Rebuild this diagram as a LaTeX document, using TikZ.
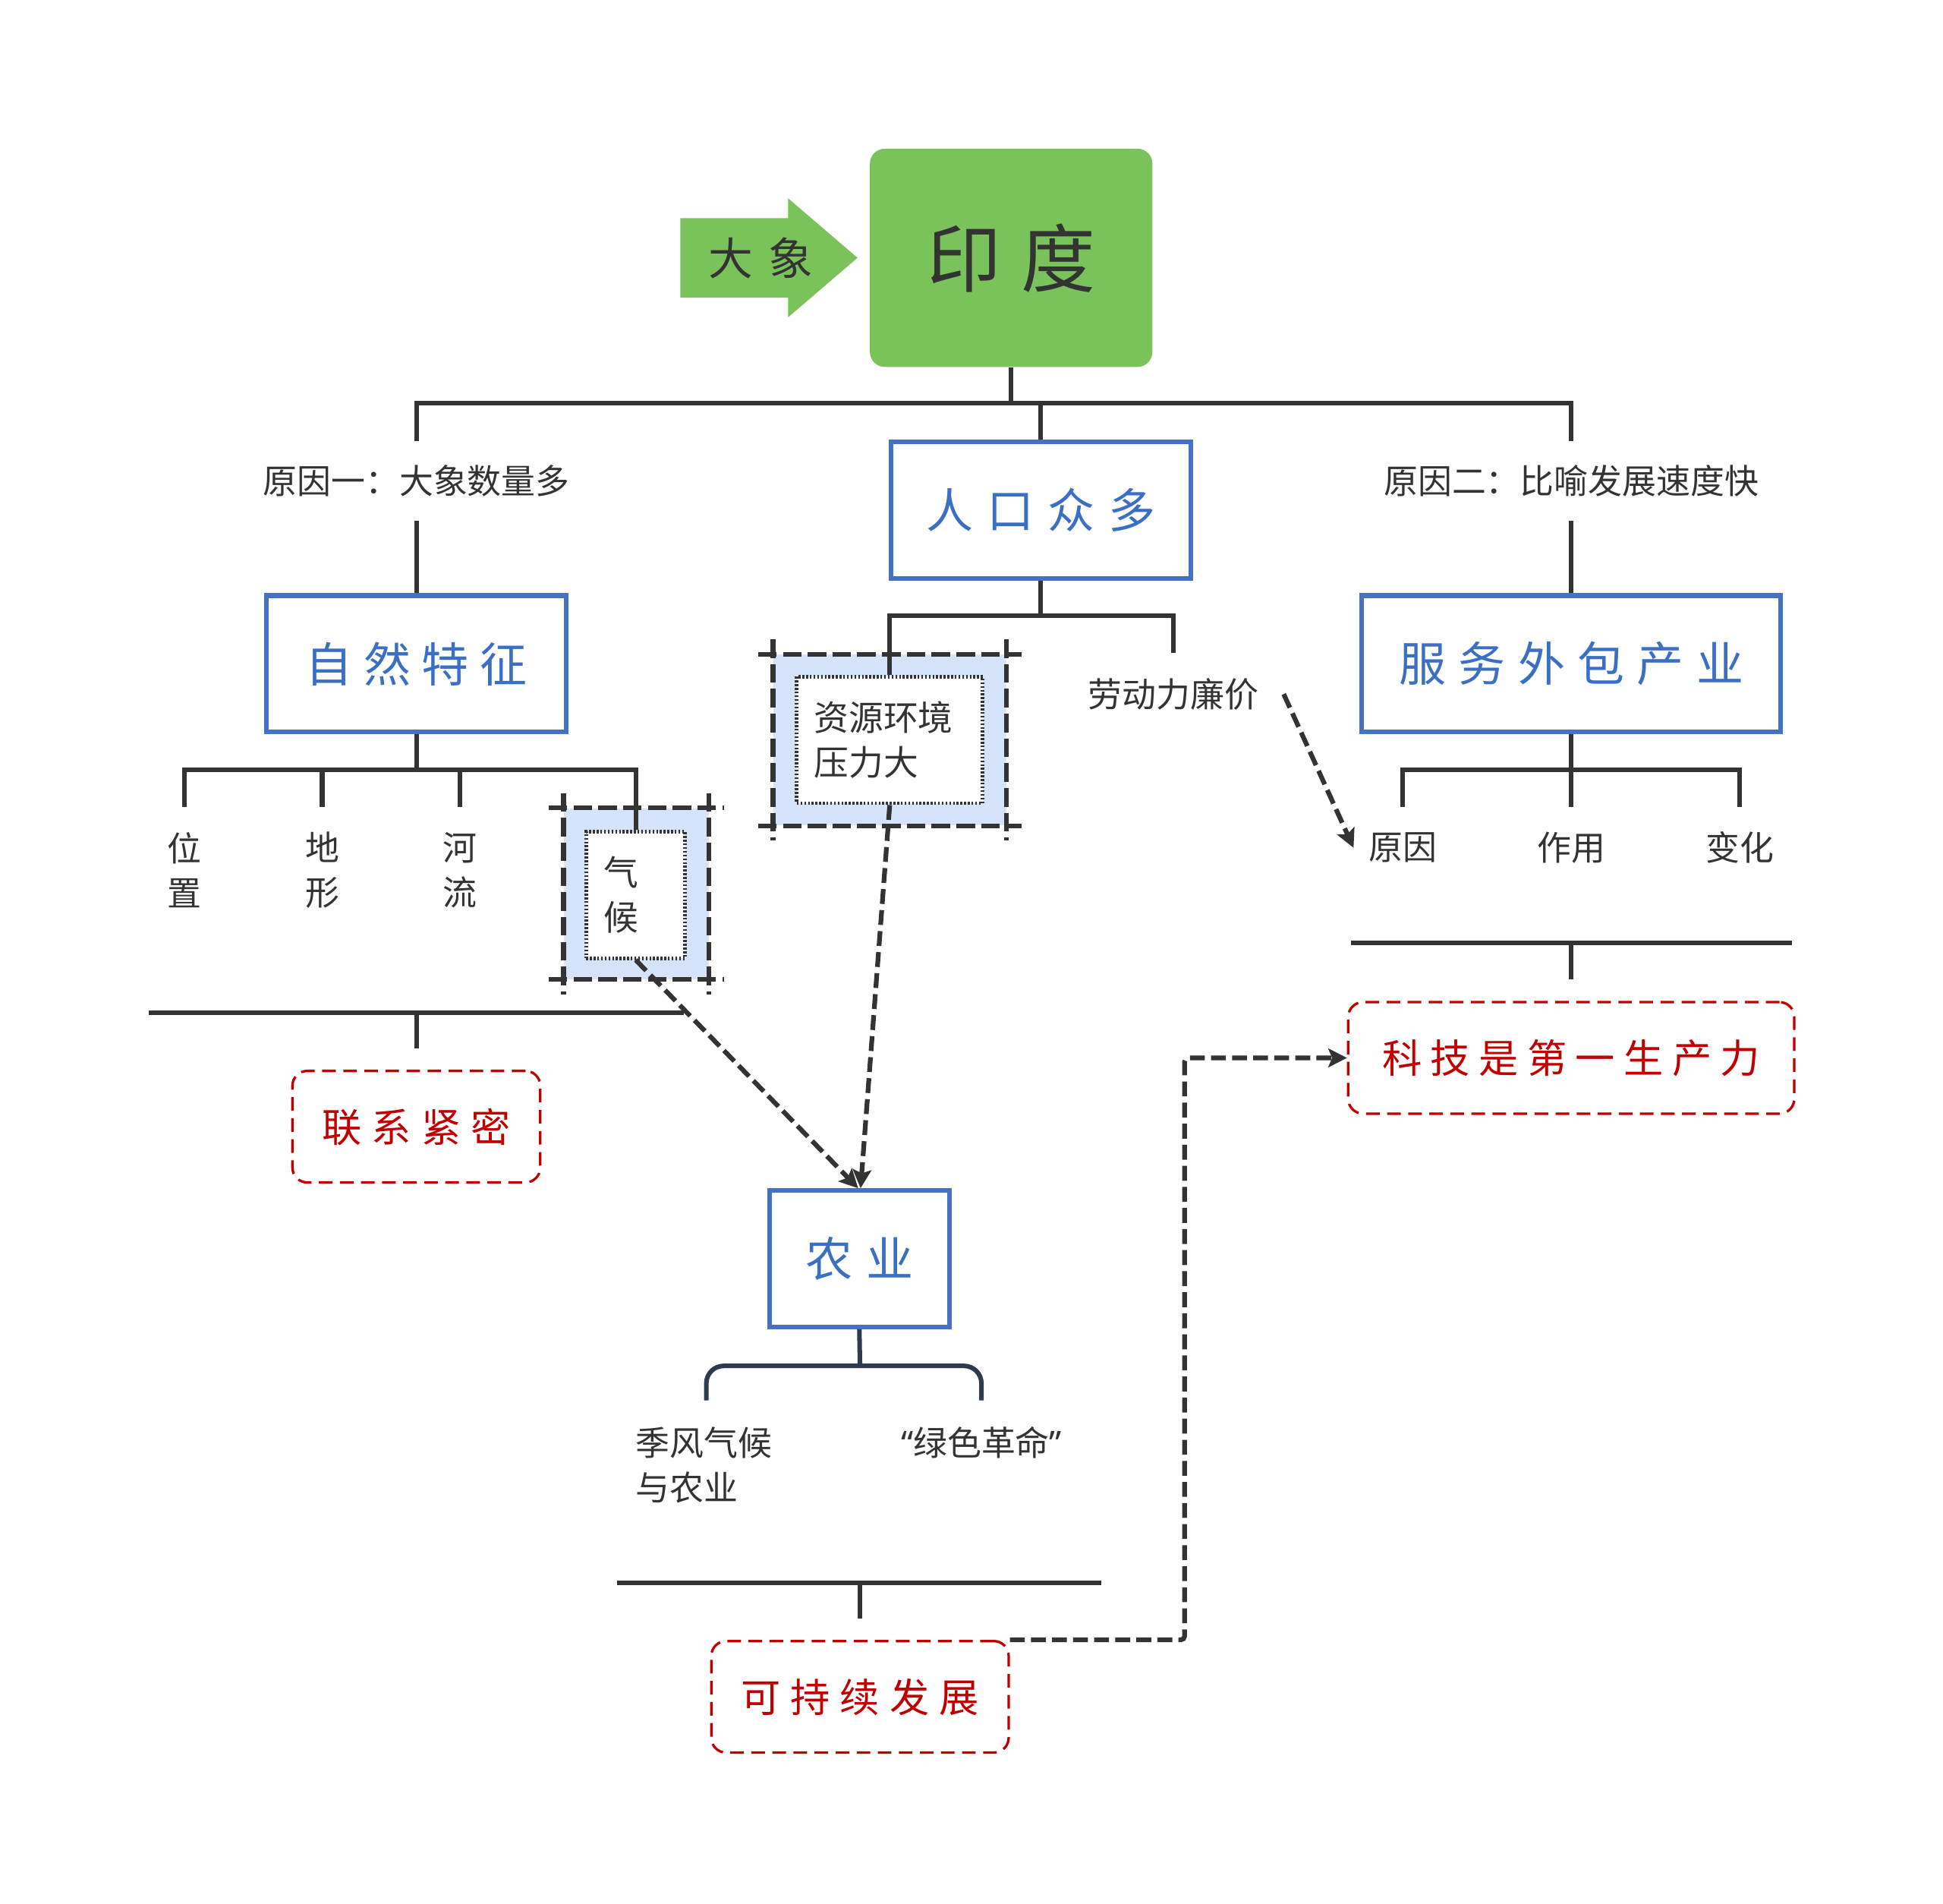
\documentclass[tikz,border=0pt]{standalone}
\usepackage{fontspec}
\setmainfont{Noto Sans CJK SC}
\newfontfamily\latinf{Noto Sans}
\usetikzlibrary{arrows.meta,calc}
\definecolor{lineC}{HTML}{333333}
\definecolor{boxblue}{HTML}{4472C4}
\definecolor{txtblue}{HTML}{3A6FC4}
\definecolor{rootgreen}{HTML}{7AC35A}
\definecolor{lightfill}{HTML}{D5E4FB}
\definecolor{redc}{HTML}{C00000}
\definecolor{navyC}{HTML}{2E3B4E}
\newcommand\fsz[2]{\fontsize{#1}{#2}\selectfont}
\newcommand\gp[1]{\hspace{#1pt}}
\begin{document}
\begin{tikzpicture}[x=1pt,y=-1pt,
  conn/.style={draw=lineC, line width=3.7pt},
  bluebox/.style={draw=boxblue, line width=3.7pt, fill=white, minimum width=#1, minimum height=110, text=txtblue, font=\fsz{38}{46}, inner sep=0},
  redbox/.style={draw=redc, line width=2pt, dash pattern=on 11pt off 6pt, rounded corners=12pt, minimum width=#1, minimum height=90, text=redc, font=\fsz{32}{40}, inner sep=0},
  lbl/.style={font=\fsz{27.5}{36}, text=lineC, inner sep=0, minimum height=#1},
  dasharrow/.style={draw=lineC, line width=3.8pt, dash pattern=on 12pt off 5pt, -{Stealth[length=15pt,width=15pt,inset=3pt]}},
  cropfill/.style={fill=lightfill, inner sep=0, minimum width=#1},
  cropline/.style={draw=lineC, line width=3.8pt, dash pattern=on 15pt off 5pt},
  dotbox/.style={draw=lineC, fill=white, line width=3pt, dash pattern=on 1.5pt off 1.5pt, inner sep=0, minimum width=#1, font=\fsz{28}{36}, text=lineC}
]
\useasboundingbox[fill=white] (0,0) rectangle (1568,1536);

% root
\node[fill=rootgreen, rounded corners=12pt, minimum width=228, minimum height=176, inner sep=0, text=lineC, font=\fsz{60}{66}] (root) at (816,208) {印\gp{16}度};
\fill[rootgreen] (549,176) -- (636,176) -- (636,160) -- (692,208) -- (636,256) -- (636,240) -- (549,240) -- cycle;
\node[text=lineC, font=\fsz{36}{40}, inner sep=0] (ele) at (614,208) {大\gp{12}象};

% level 1
\node[lbl=64] (r1) at (336,388) {原因一：大象数量多};
\node[lbl=64] (r2) at (1268,388) {原因二：比喻发展速度快};
\node[bluebox=242] (pop) at (840,411.5) {人\gp{11}口\gp{11}众\gp{11}多};
\coordinate (rootfork) at (816,325);
\draw[conn] (root.south) -- (rootfork);
\draw[conn] (r1.north) |- (rootfork) -| (r2.north);
\draw[conn] (pop.north) -- (pop.north |- rootfork);

% level 2
\node[bluebox=242] (nat) at (336,535.5) {自\gp{9}然\gp{9}特\gp{9}征};
\node[bluebox=338] (svc) at (1268,535.5) {服\gp{10}务\gp{10}外\gp{10}包\gp{10}产\gp{10}业};
\draw[conn] (r1.south) -- (nat.north);
\draw[conn] (r2.south) -- (svc.north);

% resources crop box
\node[cropfill=188, minimum height=138] (resO) at (718,597) {};
\draw[cropline] ([xshift=-12pt]resO.north west) -- ([xshift=12pt]resO.north east);
\draw[cropline] ([xshift=-12pt]resO.south west) -- ([xshift=12pt]resO.south east);
\draw[cropline] ([yshift=12pt]resO.north west) -- ([yshift=-12pt]resO.south west);
\draw[cropline] ([yshift=12pt]resO.north east) -- ([yshift=-12pt]resO.south east);
\node[dotbox=150, minimum height=102, align=left, text width=122pt] (res) at (718,597) {资源环境\\压力大};
\node[lbl=66] (labor) at (947,560) {劳动力廉价};
\coordinate (popfork) at (840,497);
\draw[conn] (pop.south) -- (popfork);
\draw[conn] (res.north) |- (popfork) -| (labor.north);

% natural features
\node[lbl=102, align=center] (pos) at (149,702) {位\\置};
\node[lbl=102, align=center] (ter) at (260,702) {地\\形};
\node[lbl=102, align=center] (riv) at (371,702) {河\\流};
\node[cropfill=117, minimum height=138] (cliO) at (513.5,721) {};
\draw[cropline] ([xshift=-12pt]cliO.north west) -- ([xshift=12pt]cliO.north east);
\draw[cropline] ([xshift=-12pt]cliO.south west) -- ([xshift=12pt]cliO.south east);
\draw[cropline] ([yshift=12pt]cliO.north west) -- ([yshift=-12pt]cliO.south west);
\draw[cropline] ([yshift=12pt]cliO.north east) -- ([yshift=-12pt]cliO.south east);
\node[dotbox=80, minimum height=102, align=left, text width=52pt] (cli) at (513,722) {气\\候};
\coordinate (natfork) at (336,621);
\draw[conn] (nat.south) -- (natfork);
\draw[conn] (pos.north) |- (natfork) -| (cli.north);
\draw[conn] (ter.north) -- (ter.north |- natfork);
\draw[conn] (riv.north) -- (riv.north |- natfork);

% service outsourcing
\node[lbl=66] (rsn) at (1132,684) {原因};
\node[lbl=66] (use) at (1268,684) {作用};
\node[lbl=66] (chg) at (1404,684) {变化};
\coordinate (svcfork) at (1268,621);
\draw[conn] (svc.south) -- (svcfork);
\draw[conn] (rsn.north) |- (svcfork) -| (chg.north);
\draw[conn] (use.north) -- (use.north |- svcfork);
\draw[dasharrow] ([xshift=20pt]labor.east) -- ([xshift=-12pt]rsn.west);

% summaries
\node[redbox=200] (sum1) at (336,909) {联\gp{8}系\gp{8}紧\gp{8}密};
\coordinate (b1L) at (120,817);
\coordinate (b1R) at (552,817);
\coordinate (b1S) at (336,846);
\draw[conn] (b1L) -- (b1R);
\draw[conn] (b1S |- b1L) -- (b1S);

\node[redbox=360] (sum2) at (1268,853.5) {科\gp{7}技\gp{7}是\gp{7}第\gp{7}一\gp{7}生\gp{7}产\gp{7}力};
\coordinate (b2L) at (1090,761);
\coordinate (b2R) at (1446,761);
\coordinate (b2S) at (1268,790);
\draw[conn] (b2L) -- (b2R);
\draw[conn] (b2S |- b2L) -- (b2S);

% agriculture
\node[bluebox=145] (agr) at (693.5,1015.5) {农\gp{11}业};
\draw[dasharrow] (cli.south) -- ([xshift=-1pt]agr.north);
\draw[dasharrow] (res.south) -- ([xshift=1pt]agr.north);
\node[lbl=104, align=left] (mon) at (568,1182) {季风气候\\与农业};
\node[lbl=68] (grn) at (792,1164) {{\latinf “}绿色革命{\latinf ”}};
\coordinate (agrfork) at (694,1102);
\draw[draw=navyC, line width=3.7pt] (agr.south) -- (agrfork);
\draw[draw=navyC, line width=3.7pt, rounded corners=14pt] ([xshift=2pt]mon.north) |- (agrfork) -| (grn.north);

\node[redbox=240] (sum3) at (694,1369) {可\gp{8}持\gp{8}续\gp{8}发\gp{8}展};
\coordinate (b3L) at (498,1277);
\coordinate (b3R) at (889,1277);
\coordinate (b3S) at (694,1306);
\draw[conn] (b3L) -- (b3R);
\draw[conn] (b3S |- b3L) -- (b3S);

\draw[dasharrow, rounded corners=3pt] (sum3.north east) -- ++(141,0) |- (sum2.west);
\end{tikzpicture}
\end{document}
